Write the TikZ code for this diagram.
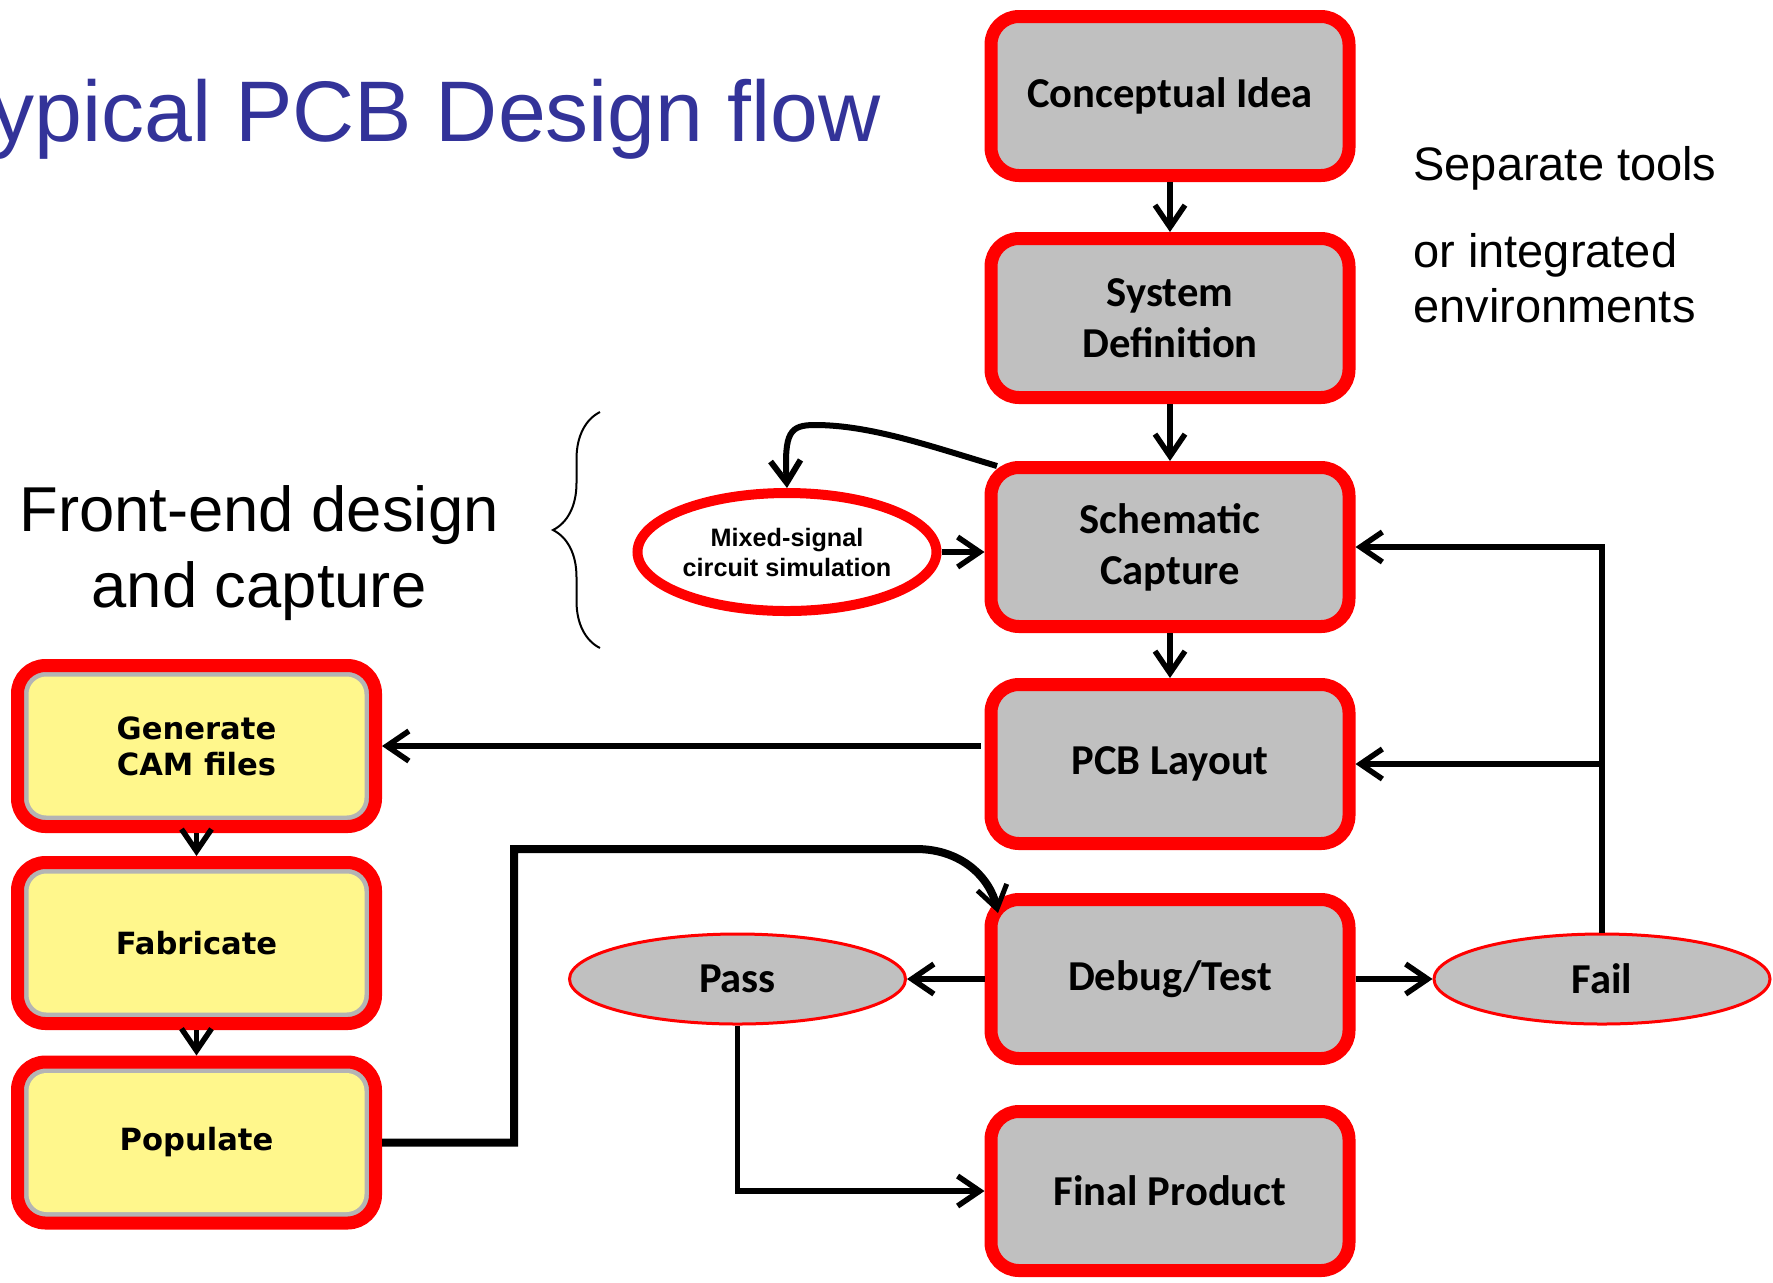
\documentclass[tikz,border=0pt]{standalone}
\usepackage{fontspec}
\setmainfont{Liberation Sans}
\newfontfamily\carfont{Carlito}
\newfontfamily\dvfont{DejaVu Sans}
\usetikzlibrary{arrows.meta,shapes.geometric,decorations.pathreplacing}

\definecolor{boxgray}{RGB}{192,192,192}
\definecolor{boxred}{RGB}{255,0,0}
\definecolor{ylw}{RGB}{255,247,140}
\definecolor{ringgray}{RGB}{180,180,180}
\definecolor{titleblue}{RGB}{51,51,153}

\begin{document}
\begin{tikzpicture}[x=0.5pt,y=0.5pt,
  graybox/.style={draw=boxred, fill=boxgray, line width=6.5pt, rounded corners=14pt,
    minimum width=179pt, minimum height=79.5pt, inner sep=0pt, align=center,
    font=\carfont\bfseries\fontsize{21.3pt}{25.5pt}\selectfont, outer sep=3.25pt},
  ylwbox/.style={draw=boxred, fill=ringgray, line width=6.5pt, rounded corners=14pt,
    minimum width=179pt, minimum height=80.5pt, inner sep=0pt, align=center,
    font=\dvfont\bfseries\fontsize{15.3pt}{18pt}\selectfont, outer sep=3.25pt,
    path picture={\fill[ylw, rounded corners=9pt]
      ([shift={(5.5pt,5.5pt)}]path picture bounding box.south west) rectangle
      ([shift={(-5.5pt,-5.5pt)}]path picture bounding box.north east);}},
  passfail/.style={ellipse, draw=boxred, line width=1.5pt, fill=boxgray,
    minimum width=168pt, minimum height=45pt, inner sep=0pt, outer sep=0.75pt,
    font=\carfont\bfseries\fontsize{21.3pt}{25pt}\selectfont},
  arr/.style={line width=2.75pt, -{Straight Barb[length=11pt,width=15pt]}},
  plain/.style={inner sep=0pt}
]
\useasboundingbox (0,0) rectangle (1773,-1282);
\fill[white] (0,0) rectangle (1773,-1282);
\clip (0,0) rectangle (1773,-1282);

% title and side texts
\node[plain, anchor=base east, text=titleblue, font=\fontsize{43pt}{50pt}\selectfont] (title) at (881,-141) {Typical PCB Design flow};
\node[plain, anchor=base, font=\fontsize{31.7pt}{38pt}\selectfont] (fe1) at (259,-531) {Front-end design};
\node[plain, anchor=base, font=\fontsize{31.7pt}{38pt}\selectfont] (fe2) at (259,-607) {and capture};
\node[plain, anchor=base west, font=\fontsize{23.5pt}{28pt}\selectfont] (sep1) at (1413,-180) {Separate tools};
\node[plain, anchor=base west, font=\fontsize{23.5pt}{28pt}\selectfont] (sep2) at (1413,-267) {or integrated};
\node[plain, anchor=base west, font=\fontsize{23.5pt}{28pt}\selectfont] (sep3) at (1413,-322) {environments};

% brace
\draw[line width=1pt, decorate, decoration={brace, amplitude=23.5pt}] (600,-648) -- (600,-412);

% main column
\node[graybox] (concept) at (1170,-96) {Conceptual Idea};
\node[graybox] (sysdef) at (1170,-318) {System\\Definition};
\node[graybox] (schem) at (1170,-547) {Schematic\\Capture};
\node[graybox] (layout) at (1170,-764) {PCB Layout};
\node[graybox] (debug) at (1170,-979) {Debug/Test};
\node[graybox] (final) at (1170,-1191) {Final Product};

% left column
\node[ylwbox] (gen) at (196.5,-746) {Generate\\CAM files};
\node[ylwbox] (fab) at (196.5,-943) {Fabricate};
\node[ylwbox] (pop) at (196.5,-1142.5) {Populate};

% ellipses
\node[ellipse, draw=boxred, line width=5pt, fill=white, minimum width=149.5pt,
  minimum height=59pt, inner sep=0pt, outer sep=2.5pt, align=center,
  font=\bfseries\fontsize{12.6pt}{15pt}\selectfont] (sim) at (787,-552) {Mixed-signal\\circuit simulation};
\node[passfail] (pass) at (737.5,-979) {Pass};
\node[passfail] (fail) at (1602,-979) {Fail};

% connectors
\draw[arr] (concept) -- (sysdef);
\draw[arr] (sysdef) -- (schem);
\draw[arr] (schem) -- (layout);
\draw[arr, shorten <=2pt] (layout.west |- gen.east) -- (gen.east);
\draw[arr] (gen) -- (fab);
\draw[arr] (fab) -- (pop);
\draw[arr] (sim.east) -- (schem.west |- sim.east);
\draw[arr] (debug.west) -- (pass.east);
\draw[arr] (debug.east) -- (fail.west);
\draw[arr] (fail.north) |- (schem.east);
\draw[arr] (fail.north |- layout.east) -- (layout.east);
\draw[arr] (pass.south) |- (final.west);

\coordinate (sstart) at (997,-466);
\draw[line width=3pt, -{Straight Barb[length=11pt,width=15pt]}]
  (sstart) .. controls (930,-446) and (870,-425) .. (815,-425)
  .. controls (790,-425) and (784,-432) .. (sim.north);

\coordinate (pj) at (514,-849);
\coordinate (pk) at (916,-849);
\coordinate (ptip) at (998,-913);
\draw[line width=4pt, -{Straight Barb[length=11pt,width=15pt,line width=2.5pt]}]
  (pop.east) -| (pj) -- (pk) .. controls (962,-849) and (990,-878) .. (ptip);
\end{tikzpicture}
\end{document}
